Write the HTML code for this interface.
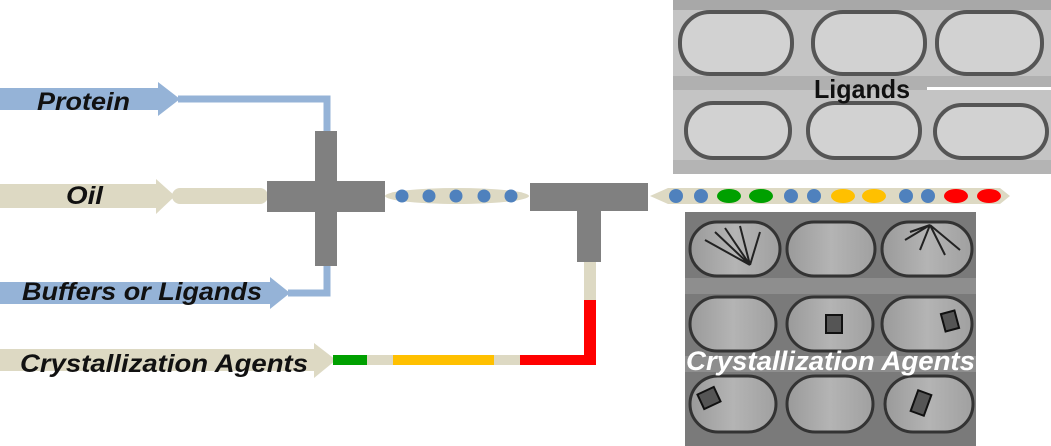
<!DOCTYPE html>
<html><head><meta charset="utf-8"><style>
html,body{margin:0;padding:0;background:#fff;width:1051px;height:446px;overflow:hidden}
text{font-family:"Liberation Sans",sans-serif}
</style></head><body>
<svg width="1051" height="446" viewBox="0 0 1051 446" xmlns="http://www.w3.org/2000/svg">
<defs>
<linearGradient id="cap" x1="0" x2="1"><stop offset="0" stop-color="#9a9a9a"/><stop offset="0.5" stop-color="#b4b4b4"/><stop offset="1" stop-color="#a0a0a0"/></linearGradient>
</defs>
<!-- Ligands photo -->
<rect x="673" y="0" width="378" height="174" fill="#c4c4c4"/>
<rect x="673" y="0" width="378" height="10" fill="#a8a8a8"/>
<rect x="673" y="76" width="378" height="14" fill="#b0b0b0"/>
<rect x="673" y="160" width="378" height="14" fill="#b4b4b4"/>
<g fill="#d2d2d2" stroke="#555" stroke-width="4">
<rect x="680" y="12" width="112" height="62" rx="30"/>
<rect x="813" y="12" width="112" height="62" rx="30"/>
<rect x="937" y="12" width="105" height="62" rx="30"/>
<rect x="686" y="103" width="104" height="55" rx="27"/>
<rect x="808" y="103" width="112" height="55" rx="27"/>
<rect x="935" y="105" width="112" height="53" rx="27"/>
</g>
<rect x="927" y="87" width="124" height="3" fill="#fff"/>
<text x="814" y="98" font-size="26" font-weight="bold" textLength="96" lengthAdjust="spacingAndGlyphs" fill="#111">Ligands</text>
<!-- Crystallization photo -->
<rect x="685" y="212" width="291" height="234" fill="#7a7a7a"/>
<rect x="685" y="278" width="291" height="16" fill="#8e8e8e"/>
<rect x="685" y="356" width="291" height="16" fill="#8e8e8e"/>
<g fill="url(#cap)" stroke="#333" stroke-width="3">
<rect x="690" y="222" width="90" height="54" rx="27"/>
<rect x="787" y="222" width="88" height="54" rx="27"/>
<rect x="882" y="222" width="90" height="54" rx="27"/>
<rect x="690" y="297" width="86" height="54" rx="27"/>
<rect x="787" y="297" width="86" height="54" rx="27"/>
<rect x="882" y="297" width="90" height="54" rx="27"/>
<rect x="690" y="376" width="86" height="56" rx="28"/>
<rect x="787" y="376" width="86" height="56" rx="28"/>
<rect x="885" y="376" width="88" height="56" rx="28"/>
</g>
<g stroke="#222" stroke-width="2">
<path d="M750 265 L715 232 M750 265 L725 228 M750 265 L740 226 M750 265 L705 240 M750 265 L760 232"/>
<path d="M930 225 L905 240 M930 225 L920 250 M930 225 L945 255 M930 225 L960 250 M930 225 L910 232"/>
</g>
<g fill="#555" stroke="#111" stroke-width="2">
<rect x="826" y="315" width="16" height="18"/>
<rect x="943" y="312" width="14" height="18" transform="rotate(-15 950 321)"/>
<rect x="700" y="390" width="18" height="16" transform="rotate(-25 709 398)"/>
<rect x="914" y="392" width="14" height="22" transform="rotate(20 921 403)"/>
</g>
<text x="686" y="370" font-size="27" font-weight="bold" font-style="italic" textLength="289" lengthAdjust="spacingAndGlyphs" fill="#fff">Crystallization Agents</text>

<!-- Protein -->
<rect x="0" y="88" width="160" height="22" fill="#95b3d7"/>
<polygon points="158,82 180,99 158,116" fill="#95b3d7"/>
<path d="M178 99 H327 V131" fill="none" stroke="#95b3d7" stroke-width="7"/>
<text x="37" y="110" font-size="25" font-weight="bold" font-style="italic" textLength="93" lengthAdjust="spacingAndGlyphs" fill="#111">Protein</text>
<!-- Buffers -->
<rect x="0" y="282" width="272" height="22" fill="#95b3d7"/>
<polygon points="270,277 290,293 270,309" fill="#95b3d7"/>
<path d="M288 293 H327 V264" fill="none" stroke="#95b3d7" stroke-width="7"/>
<text x="22" y="300" font-size="25" font-weight="bold" font-style="italic" textLength="240" lengthAdjust="spacingAndGlyphs" fill="#111">Buffers or Ligands</text>
<!-- Oil -->
<rect x="0" y="184" width="158" height="24" fill="#ddd9c3"/>
<polygon points="156,179 175,196 156,214" fill="#ddd9c3"/>
<rect x="172" y="188" width="96" height="16" rx="8" fill="#ddd9c3"/>
<text x="66" y="204" font-size="25" font-weight="bold" font-style="italic" textLength="37" lengthAdjust="spacingAndGlyphs" fill="#111">Oil</text>
<!-- Cross -->
<rect x="315" y="131" width="22" height="135" fill="#808080"/>
<rect x="267" y="181" width="118" height="31" fill="#808080"/>
<!-- middle pill -->
<ellipse cx="457" cy="196" rx="72" ry="8" fill="#ddd9c3"/>
<g fill="#4f81bd"><circle cx="402" cy="196" r="6.5"/><circle cx="429" cy="196" r="6.5"/><circle cx="456" cy="196" r="6.5"/><circle cx="484" cy="196" r="6.5"/><circle cx="511" cy="196" r="6.5"/></g>
<!-- T -->
<rect x="530" y="183" width="118" height="28" fill="#808080"/>
<rect x="577" y="210" width="24" height="52" fill="#808080"/>
<!-- right pill -->
<polygon points="650,196 668,188 1000,188 1010,196 1000,204 668,204" fill="#ddd9c3"/>
<g fill="#4f81bd"><circle cx="676" cy="196" r="7"/><circle cx="701" cy="196" r="7"/><circle cx="791" cy="196" r="7"/><circle cx="814" cy="196" r="7"/><circle cx="906" cy="196" r="7"/><circle cx="928" cy="196" r="7"/></g>
<g fill="#00a000"><ellipse cx="729" cy="196" rx="12" ry="7"/><ellipse cx="761" cy="196" rx="12" ry="7"/></g>
<g fill="#ffc000"><ellipse cx="843" cy="196" rx="12" ry="7"/><ellipse cx="874" cy="196" rx="12" ry="7"/></g>
<g fill="#ff0000"><ellipse cx="956" cy="196" rx="12" ry="7"/><ellipse cx="989" cy="196" rx="12" ry="7"/></g>
<!-- Crystallization agents -->
<rect x="0" y="349" width="316" height="22" fill="#ddd9c3"/>
<polygon points="314,343 336,360 314,378" fill="#ddd9c3"/>
<text x="20" y="372" font-size="25" font-weight="bold" font-style="italic" textLength="288" lengthAdjust="spacingAndGlyphs" fill="#111">Crystallization Agents</text>
<rect x="333" y="355" width="34" height="10" fill="#00a000"/>
<rect x="367" y="355" width="26" height="10" fill="#ddd9c3"/>
<rect x="393" y="355" width="101" height="10" fill="#ffc000"/>
<rect x="494" y="355" width="26" height="10" fill="#ddd9c3"/>
<rect x="520" y="355" width="76" height="10" fill="#ff0000"/>
<rect x="584" y="300" width="12" height="65" fill="#ff0000"/>
<rect x="584" y="262" width="12" height="38" fill="#ddd9c3"/>
</svg>
</body></html>
